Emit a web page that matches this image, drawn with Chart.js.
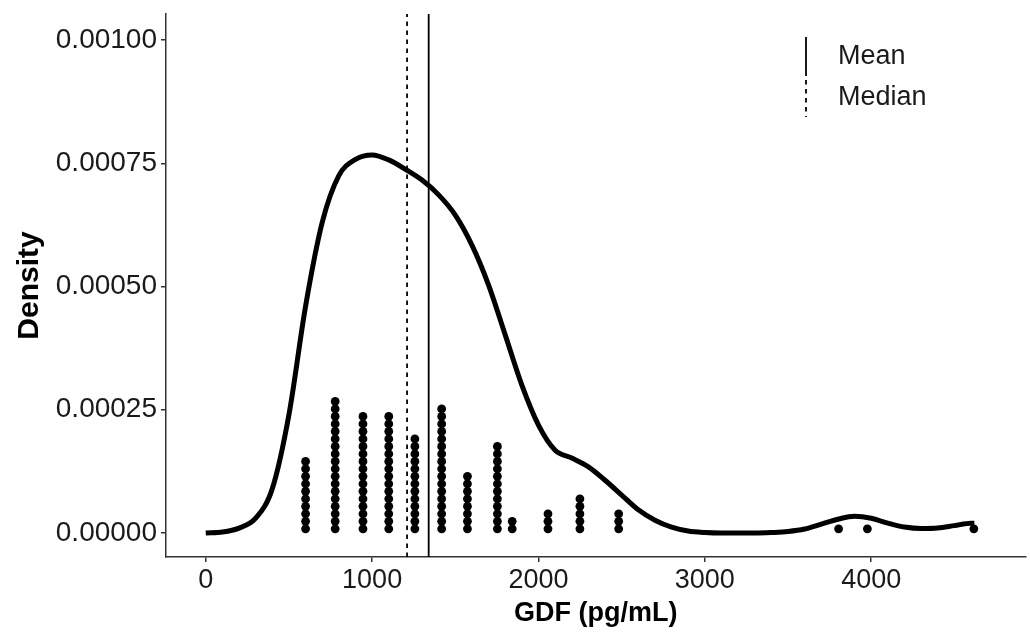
<!DOCTYPE html>
<html>
<head>
<meta charset="utf-8">
<script src="https://cdn.jsdelivr.net/npm/chart.js@4.4.1/dist/chart.umd.min.js"></script>
<style>
  html, body { margin: 0; padding: 0; background: #fff; }
  #wrap { width: 1030px; height: 635px; }
</style>
</head>
<body>
<div id="wrap"><canvas id="densityChart" width="1030" height="635"></canvas></div>
<script>
// kernel density of GDF, sampled every 100 pg/mL
var curveX = [0, 100, 200, 300, 400, 500, 600, 700, 800, 900,
              1000, 1100, 1200, 1300, 1400, 1500, 1600, 1700, 1800, 1900,
              2000, 2100, 2200, 2300, 2400, 2500, 2600, 2700, 2800, 2900,
              3000, 3100, 3200, 3300, 3400, 3500, 3600, 3700, 3800, 3900,
              4000, 4100, 4200, 4300, 4400, 4500, 4600, 4620];
var curveY = [0.000000, 0.000002, 0.000010, 0.000030, 0.000090, 0.000240, 0.000460, 0.000630, 0.000725, 0.000758,
              0.000767, 0.000757, 0.000738, 0.000716, 0.000686, 0.000645, 0.000584, 0.000503, 0.000402, 0.000300,
              0.000219, 0.000168, 0.000152, 0.000134, 0.000107, 0.000077, 0.000047, 0.000026, 0.000012, 0.000004,
              0.000001, 0.000000, 0.000000, 0.000000, 0.000001, 0.000003, 0.000008, 0.000018, 0.000028, 0.000034,
              0.000030, 0.000020, 0.000012, 0.000009, 0.000010, 0.000015, 0.000020, 0.000020];

// dot plot: bin centres (pg/mL) and how many samples fall in each
var binCentres = [600, 778, 945, 1100, 1257, 1418, 1573, 1753, 1842, 2057, 2249, 2482, 3804, 3977, 4617];
var binCounts  = [10, 18, 16, 16, 13, 17, 8, 12, 2, 3, 5, 3, 1, 1, 1];

var meanGDF = 1340;
var medianGDF = 1210;

var xTicks = [0, 1000, 2000, 3000, 4000];
var yTicks = [0, 0.00025, 0.0005, 0.00075, 0.001];

var xMin = -239, xMax = 4928;
var yMin = -0.0000487, yMax = 0.001053;

// stacking of the dots, in density units
var dotBase = 0.0000085;
var dotStep = 0.0000152;

var densityPts = curveX.map(function (x, i) { return { x: x, y: curveY[i] }; });

var dotPts = [];
binCentres.forEach(function (c, i) {
  for (var k = 0; k < binCounts[i]; k++) {
    dotPts.push({ x: c, y: dotBase + k * dotStep });
  }
});

function vline(x) {
  return [{ x: x, y: yMin }, { x: x, y: yMax }];
}

var FONT = "'Liberation Sans', Arial, sans-serif";

// ggplot style key with vertical line glyphs
var keyPlugin = {
  id: 'lineKey',
  afterDraw: function (chart) {
    var ctx = chart.ctx;
    ctx.save();
    ctx.strokeStyle = '#000';
    ctx.lineWidth = 1.8;
    ctx.beginPath();
    ctx.moveTo(806, 37);
    ctx.lineTo(806, 76);
    ctx.stroke();
    ctx.setLineDash([4.5, 4.5]);
    ctx.beginPath();
    ctx.moveTo(806, 80);
    ctx.lineTo(806, 117);
    ctx.stroke();
    ctx.setLineDash([]);
    ctx.fillStyle = '#1a1a1a';
    ctx.font = '27px ' + FONT;
    ctx.textBaseline = 'middle';
    ctx.textAlign = 'left';
    ctx.fillText('Mean', 838, 57);
    ctx.fillText('Median', 838, 98);
    ctx.restore();
  }
};

var ctx = document.getElementById('densityChart').getContext('2d');

new Chart(ctx, {
  type: 'scatter',
  data: {
    datasets: [
      {
        label: 'dots',
        data: dotPts,
        pointRadius: 4.4,
        pointHoverRadius: 4.4,
        pointBackgroundColor: '#000',
        pointBorderWidth: 0,
        showLine: false
      },
      {
        label: 'density',
        type: 'line',
        data: densityPts,
        borderColor: '#000',
        borderWidth: 5,
        pointRadius: 0,
        fill: false,
        cubicInterpolationMode: 'monotone'
      },
      {
        label: 'Mean',
        type: 'line',
        data: vline(meanGDF),
        borderColor: '#000',
        borderWidth: 1.8,
        pointRadius: 0,
        fill: false
      },
      {
        label: 'Median',
        type: 'line',
        data: vline(medianGDF),
        borderColor: '#000',
        borderWidth: 1.8,
        borderDash: [4.5, 4.5],
        pointRadius: 0,
        fill: false
      }
    ]
  },
  options: {
    responsive: false,
    animation: false,
    layout: { padding: { top: 14, right: 0, bottom: 0, left: 0 } },
    plugins: {
      legend: { display: false },
      tooltip: { enabled: false }
    },
    scales: {
      x: {
        type: 'linear',
        min: xMin,
        max: xMax,
        afterBuildTicks: function (scale) {
          scale.ticks = xTicks.map(function (v) { return { value: v }; });
        },
        afterFit: function (scale) {
          scale.height = 78;
          scale.paddingLeft = 0;
          scale.paddingRight = 0;
        },
        grid: { display: true, drawOnChartArea: false, drawTicks: true, tickLength: 5, color: '#333', lineWidth: 1.5 },
        border: { display: true, color: '#333', width: 1.5 },
        ticks: {
          font: { family: FONT, size: 27 },
          color: '#1a1a1a',
          padding: 2,
          maxRotation: 0,
          callback: function (v) { return String(v); }
        },
        title: {
          display: true,
          text: 'GDF (pg/mL)',
          color: '#000',
          font: { family: FONT, size: 27, weight: 'bold' },
          padding: { top: 0, bottom: 5 }
        }
      },
      y: {
        type: 'linear',
        min: yMin,
        max: yMax,
        afterBuildTicks: function (scale) {
          scale.ticks = yTicks.map(function (v) { return { value: v }; });
        },
        afterFit: function (scale) {
          scale.width = 166;
          scale.paddingTop = 0;
          scale.paddingBottom = 0;
        },
        grid: { display: true, drawOnChartArea: false, drawTicks: true, tickLength: 5, color: '#333', lineWidth: 1.5 },
        border: { display: true, color: '#333', width: 1.5 },
        ticks: {
          font: { family: FONT, size: 28 },
          color: '#1a1a1a',
          padding: 4,
          callback: function (v) { return v.toFixed(5); }
        },
        title: {
          display: true,
          text: 'Density',
          color: '#000',
          font: { family: FONT, size: 30, weight: 'bold' },
          padding: { top: 12, bottom: 0 }
        }
      }
    }
  },
  plugins: [keyPlugin]
});
</script>
</body>
</html>
